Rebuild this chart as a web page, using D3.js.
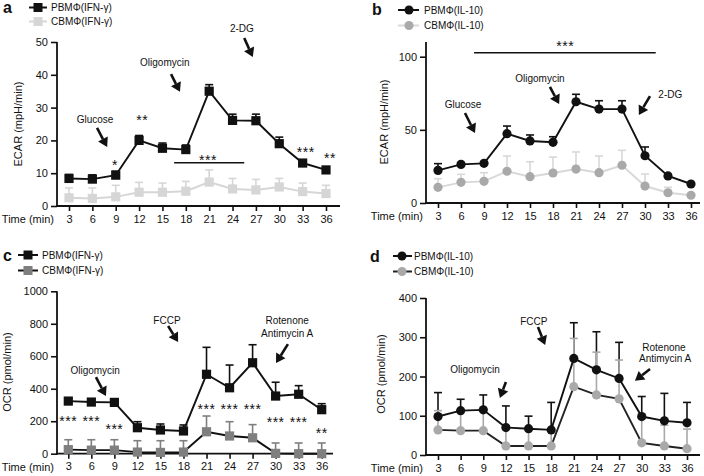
<!DOCTYPE html>
<html><head><meta charset="utf-8">
<script src="https://cdn.jsdelivr.net/npm/d3@7"></script>
<style>
body{margin:0;background:#fff}
svg{display:block}
text{font-family:"Liberation Sans",Arial,Helvetica,sans-serif;fill:#111}
</style>
</head><body>
<svg id="chart" width="704" height="476"></svg>
<script>
// ---------------- DATA ----------------
const times = [3, 6, 9, 12, 15, 18, 21, 24, 27, 30, 33, 36];

// a: ECAR, IFN-gamma
const ecarPbmIfn   = [8.4, 8.2, 9.4, 20.0, 17.6, 17.2, 35.0, 26.1, 26.0, 19.0, 13.1, 11.0];
const ecarPbmIfnSd = [1.2, 1.3, 1.2, 1.5, 1.6, 1.4, 2.0, 1.9, 2.0, 2.0, 0.7, 0.6];
const ecarCbmIfn   = [2.5, 2.3, 2.8, 4.2, 4.2, 4.5, 7.3, 5.2, 4.9, 5.8, 4.4, 3.8];
const ecarCbmIfnSd = [3.0, 3.2, 3.5, 3.0, 2.8, 3.0, 3.7, 3.2, 3.2, 2.6, 2.6, 2.5];

// b: ECAR, IL-10
const ecarPbmIl   = [22.3, 26.4, 27.1, 47.4, 42.4, 41.5, 69.2, 64.2, 64.2, 32.3, 18.5, 13.0];
const ecarPbmIlSd = [4.6, 1.1, 0.9, 5.2, 4.1, 3.8, 5.1, 5.7, 5.7, 6.0, 1.0, 0.5];
const ecarCbmIl   = [10.7, 14.1, 14.8, 21.7, 18.0, 20.5, 23.2, 20.7, 25.8, 11.6, 7.0, 5.3];
const ecarCbmIlSd = [5.9, 5.5, 5.9, 10.4, 10.2, 10.9, 11.7, 11.4, 10.2, 8.2, 3.7, 0];

// c: OCR, IFN-gamma
const ocrPbmIfn   = [324, 318, 316, 160, 146, 140, 489, 406, 560, 355, 366, 271];
const ocrPbmIfnSd = [16, 12, 9, 37, 37, 37, 166, 140, 111, 85, 53, 37];
const ocrCbmIfn   = [25, 22, 22, 10, 8, 10, 135, 109, 98, 2, 0, 0];
const ocrCbmIfnSd = [61, 64, 64, 70, 72, 70, 97, 88, 81, 64, 66, 66];

// d: OCR, IL-10
const ocrPbmIl   = [98, 113, 115, 70, 67, 64, 246, 217, 195, 98, 87, 82];
const ocrPbmIlSd = [61, 29, 38, 55, 32, 70, 91, 97, 92, 51, 70, 52];
const ocrCbmIl   = [64, 62, 62, 23, 23, 23, 174, 153, 143, 31, 23, 16];
const ocrCbmIlSd = [49, 50, 52, 45, 43, 40, 123, 109, 99, 62, 53, 50];

// tick values
const ticksA = [0, 10, 20, 30, 40, 50];
const ticksB = [0, 50, 100];
const ticksC = [0, 200, 400, 600, 800, 1000];
const ticksD = [0, 100, 200, 300, 400];

// annotations in data units [time, value, label]
const notesA = [[6.34, 26.5, "Glucose"], [15.3, 43.6, "Oligomycin"], [25.2, 54, "2-DG"]];
const arrowsA = [[6.6, 23.8, 7.9, 18.0], [16.1, 40.2, 17.25, 34.8], [25.5, 51.2, 26.6, 45.4]];
const starsA = [[8.9, 13.5, "*"], [12.4, 27.1, "**"], [20.85, 15.0, "***"], [33.4, 17.3, "***"], [36.5, 15.5, "**"]];
const barsA = [[16.5, 25.5, 13.2]];

const notesB = [[6.26, 67, "Glucose"], [16.3, 85.4, "Oligomycin"], [33.3, 74.5, "2-DG"]];
const arrowsB = [[6.52, 61.5, 7.83, 47.8], [17.6, 79.3, 18.8, 67.7], [30.65, 73.1, 29.2, 60.2]];
const starsB = [[19.6, 109.2, "***"]];
const barsB = [[7.7, 31.4, 102.7]];

const notesC = [[6.5, 515, "Oligomycin"], [15.85, 823, "FCCP"], [31.5, 823, "Rotenone"], [31.5, 743, "Antimycin A"]];
const arrowsC = [[6.6, 472, 7.9, 355], [16.0, 786, 17.3, 688], [31.6, 675, 30.05, 558]];
const starsC = [[3, 218, "***"], [6, 218, "***"], [9, 170, "***"], [21, 294, "***"], [24, 294, "***"],
                [27, 294, "***"], [30, 213, "***"], [33, 213, "***"], [36, 146, "**"]];
const barsC = [];

const notesD = [[7.9, 216.6, "Oligomycin"], [15.7, 341, "FCCP"], [32.95, 275, "Rotenone"], [33.1, 245, "Antimycin A"]];
const arrowsD = [[12.0, 186, 11.2, 145], [16.25, 326, 17.2, 280], [31.1, 219, 29.1, 189]];
const starsD = [];
const barsD = [];

// ---------------- DRAW ----------------
const svg = d3.select("#chart");
const INK = "#111";

function drawArrow(g, x1, y1, x2, y2) {
  const ang = Math.atan2(y2 - y1, x2 - x1);
  const hl = 9, hw = 5.5;
  const bx = x2 - hl * Math.cos(ang), by = y2 - hl * Math.sin(ang);
  g.append("line").attr("x1", x1).attr("y1", y1).attr("x2", bx).attr("y2", by)
    .attr("stroke", INK).attr("stroke-width", 2.6);
  g.append("polygon").attr("points", [
    [x2, y2], [bx + hw * Math.sin(ang), by - hw * Math.cos(ang)], [bx - hw * Math.sin(ang), by + hw * Math.cos(ang)]
  ].map(p => p.join(",")).join(" ")).attr("fill", INK);
}

function panel(cfg) {
  const g = svg.append("g");
  const x = d3.scaleLinear().domain([3, 36]).range(cfg.xr);
  const y = d3.scaleLinear().domain([0, cfg.yMax]).range(cfg.yr);

  // y axis
  const ya = g.append("g").attr("transform", `translate(${cfg.ax},0)`)
    .call(d3.axisLeft(y).tickValues(cfg.ticks).tickFormat(d3.format("d"))
      .tickSize(6).tickPadding(3).tickSizeOuter(0));
  ya.select(".domain").remove();
  ya.selectAll("line").attr("stroke", INK).attr("stroke-width", 1.6);
  ya.selectAll("text").attr("font-size", 11).attr("fill", INK)
    .attr("font-family", '"Liberation Sans",Arial,sans-serif');
  g.append("line").attr("x1", cfg.ax).attr("x2", cfg.ax)
    .attr("y1", y(0) + 1).attr("y2", y(cfg.yTop)).attr("stroke", INK).attr("stroke-width", 1.8);

  // x axis
  const xa = g.append("g").attr("transform", `translate(0,${y(0)})`)
    .call(d3.axisBottom(x).tickValues(times).tickSize(5).tickPadding(4).tickSizeOuter(0));
  xa.select(".domain").remove();
  xa.selectAll("line").attr("stroke", INK).attr("stroke-width", 1.6);
  xa.selectAll("text").attr("font-size", 11).attr("fill", INK)
    .attr("font-family", '"Liberation Sans",Arial,sans-serif');
  g.append("line").attr("x1", cfg.ax - 1).attr("x2", cfg.xEnd)
    .attr("y1", y(0)).attr("y2", y(0)).attr("stroke", INK).attr("stroke-width", 1.8);
  g.append("text").attr("x", cfg.timeX).attr("y", y(0) + 16.8).attr("text-anchor", "end")
    .attr("font-size", 11).text("Time (min)");

  // y label
  g.append("text").attr("transform", `translate(${cfg.ylx},${cfg.yly}) rotate(-90)`)
    .attr("text-anchor", "middle").attr("font-size", 11).text(cfg.ylabel);

  // error bars (upper only)
  cfg.series.forEach(s => {
    const eg = g.append("g").attr("stroke", s.err).attr("stroke-width", 1.6);
    s.v.forEach((v, i) => {
      if (!s.sd[i]) return;
      const cx = x(times[i]), top = y(v + s.sd[i]);
      eg.append("line").attr("x1", cx).attr("x2", cx).attr("y1", y(v)).attr("y2", top);
      eg.append("line").attr("x1", cx - 4).attr("x2", cx + 4).attr("y1", top).attr("y2", top);
    });
  });
  // lines + markers (second series beneath)
  cfg.series.slice().reverse().forEach(s => {
    g.append("path").datum(s.v)
      .attr("d", d3.line().x((d, i) => x(times[i])).y(d => y(d)))
      .attr("fill", "none").attr("stroke", s.line).attr("stroke-width", 1.9);
    const mg = g.append("g").attr("fill", s.fill);
    s.v.forEach((v, i) => {
      if (cfg.shape === "square") {
        mg.append("rect").attr("x", x(times[i]) - 4.6).attr("y", y(v) - 4.6).attr("width", 9.2).attr("height", 9.2);
      } else {
        mg.append("circle").attr("cx", x(times[i])).attr("cy", y(v)).attr("r", 4.6);
      }
    });
  });

  // annotations
  cfg.notes.forEach(n => g.append("text").attr("x", x(n[0])).attr("y", y(n[1]) + 3.5)
    .attr("text-anchor", "middle").attr("font-size", 10).text(n[2]));
  cfg.arrows.forEach(a => drawArrow(g, x(a[0]), y(a[1]), x(a[2]), y(a[3])));
  cfg.stars.forEach(s => g.append("text").attr("x", x(s[0])).attr("y", y(s[1]) + 8)
    .attr("text-anchor", "middle").attr("font-size", 14).attr("letter-spacing", 0.5).text(s[2]));
  cfg.bars.forEach(b => g.append("line").attr("x1", x(b[0])).attr("x2", x(b[1]))
    .attr("y1", y(b[2])).attr("y2", y(b[2])).attr("stroke", INK).attr("stroke-width", 1.6));

  // legend
  cfg.series.forEach((s, k) => {
    const ly = cfg.leg.y[k];
    g.append("line").attr("x1", cfg.leg.l0).attr("x2", cfg.leg.l1).attr("y1", ly).attr("y2", ly)
      .attr("stroke", s.line).attr("stroke-width", 2);
    if (cfg.shape === "square") {
      g.append("rect").attr("x", cfg.leg.m - 4.5).attr("y", ly - 4.5).attr("width", 9).attr("height", 9).attr("fill", s.fill);
    } else {
      g.append("circle").attr("cx", cfg.leg.m).attr("cy", ly).attr("r", 4.5).attr("fill", s.fill);
    }
    g.append("text").attr("x", cfg.leg.t).attr("y", ly + 3.6).attr("font-size", 10).text(s.name);
  });
  g.append("text").attr("x", cfg.letter[0]).attr("y", cfg.letter[1]).attr("font-size", 16)
    .attr("font-weight", "bold").text(cfg.letterText);
}

panel({
  xr: [69, 326], yr: [206, 42], yMax: 50, yTop: 50, ax: 57, xEnd: 340, ticks: ticksA,
  timeX: 54, ylx: 22, yly: 124, ylabel: "ECAR (mpH/min)", shape: "square",
  series: [
    {name: "PBMΦ(IFN-γ)", v: ecarPbmIfn, sd: ecarPbmIfnSd, line: INK, fill: INK, err: INK},
    {name: "CBMΦ(IFN-γ)", v: ecarCbmIfn, sd: ecarCbmIfnSd, line: "#d6d6d6", fill: "#d6d6d6", err: "#d6d6d6"}
  ],
  notes: notesA, arrows: arrowsA, stars: starsA, bars: barsA,
  leg: {y: [7.5, 21.5], l0: 29, l1: 47, m: 38, t: 51}, letter: [3, 13], letterText: "a"
});

panel({
  xr: [438, 691], yr: [203, 56.7], yMax: 100, yTop: 110, ax: 426, xEnd: 700, ticks: ticksB,
  timeX: 423, ylx: 388, yly: 122, ylabel: "ECAR (mpH/min)", shape: "circle",
  series: [
    {name: "PBMΦ(IL-10)", v: ecarPbmIl, sd: ecarPbmIlSd, line: INK, fill: INK, err: INK},
    {name: "CBMΦ(IL-10)", v: ecarCbmIl, sd: ecarCbmIlSd, line: "#d8d8d8", fill: "#a9a9a9", err: "#d8d8d8"}
  ],
  notes: notesB, arrows: arrowsB, stars: starsB, bars: barsB,
  leg: {y: [10, 25.5], l0: 398, l1: 419, m: 409, t: 424}, letter: [372, 15], letterText: "b"
});

panel({
  xr: [68.3, 321.7], yr: [453.7, 291.3], yMax: 1000, yTop: 1000, ax: 57, xEnd: 333, ticks: ticksC,
  timeX: 54, ylx: 11, yly: 372, ylabel: "OCR (pmol/min)", shape: "square",
  series: [
    {name: "PBMΦ(IFN-γ)", v: ocrPbmIfn, sd: ocrPbmIfnSd, line: INK, fill: INK, err: INK},
    {name: "CBMΦ(IFN-γ)", v: ocrCbmIfn, sd: ocrCbmIfnSd, line: INK, fill: "#7f7f7f", err: "#7f7f7f"}
  ],
  notes: notesC, arrows: arrowsC, stars: starsC, bars: barsC,
  leg: {y: [255, 270.5], l0: 18, l1: 38, m: 28, t: 42}, letter: [3, 261], letterText: "c"
});

panel({
  xr: [438, 687], yr: [455, 298], yMax: 400, yTop: 400, ax: 426, xEnd: 700, ticks: ticksD,
  timeX: 423, ylx: 385, yly: 374, ylabel: "OCR (pmol/min)", shape: "circle",
  series: [
    {name: "PBMΦ(IL-10)", v: ocrPbmIl, sd: ocrPbmIlSd, line: INK, fill: INK, err: INK},
    {name: "CBMΦ(IL-10)", v: ocrCbmIl, sd: ocrCbmIlSd, line: "#222", fill: "#a9a9a9", err: "#a9a9a9"}
  ],
  notes: notesD, arrows: arrowsD, stars: starsD, bars: barsD,
  leg: {y: [256, 271.5], l0: 393, l1: 412, m: 402, t: 414}, letter: [370, 262], letterText: "d"
});
</script>
</body></html>
